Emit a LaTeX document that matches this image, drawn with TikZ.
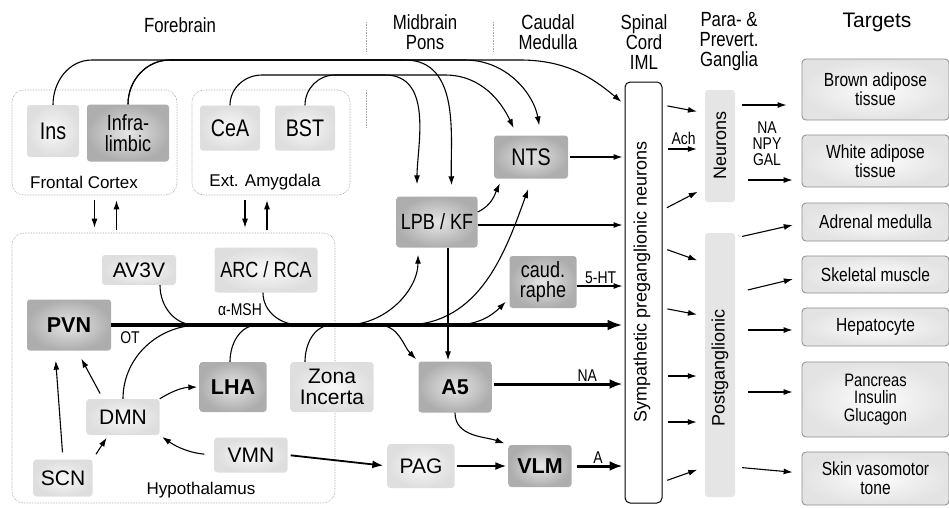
\documentclass[tikz,border=0pt]{standalone}
\usepackage{fontspec}
\setmainfont{Liberation Sans}
\newfontfamily\narrowfont[FakeStretch=0.82]{Liberation Sans}
\usetikzlibrary{arrows.meta}

\newcommand{\hdfont}{\narrowfont\fontsize{20.5}{20}\selectfont}
\newcommand{\bxfont}{\narrowfont\fontsize{22}{20}\selectfont}
\newcommand{\bgfont}{\narrowfont\fontsize{24}{24}\selectfont}
\newcommand{\rgfont}{\fontsize{21}{21}\selectfont}
\newcommand{\bdfont}{\bfseries\fontsize{21.5}{21.5}\selectfont}
\newcommand{\tgfont}{\narrowfont\fontsize{19}{19}\selectfont}
\newcommand{\smfont}{\narrowfont\fontsize{17}{16}\selectfont}
\newcommand{\grfont}{\fontsize{17}{17}\selectfont}
\newcommand{\rotfont}{\fontsize{18}{18}\selectfont}

\begin{document}
\begin{tikzpicture}[x=1pt,y=1pt,
  >={Latex[length=9pt,width=6pt]},
  dkbox/.style={rounded corners=3pt,inner sep=0pt,align=center,inner color=gray!20,outer color=gray!64,font=\bxfont},
  ltbox/.style={rounded corners=3pt,inner sep=0pt,align=center,inner color=gray!5,outer color=gray!26,font=\rgfont},
  tgbox/.style={rounded corners=4pt,inner sep=0pt,align=center,draw=gray!90,line width=0.8pt,inner color=gray!2,outer color=gray!22,font=\tgfont,minimum width=147pt},
  gbox/.style={fill=gray!20,rounded corners=3pt,minimum width=30pt,inner sep=0pt},
  group/.style={draw=gray!80,densely dotted,line width=0.6pt,rounded corners=12pt,inner sep=0pt},
  head/.style={font=\hdfont,align=center},
  lab/.style={font=\smfont,inner sep=1.5pt,align=center},
  sep/.style={draw=gray!70,densely dotted,line width=0.6pt},
  ln/.style={line width=1.1pt},
  thk/.style={line width=3.4pt,-{Latex[length=15pt,width=11pt]}},
  mid/.style={line width=3pt,-{Latex[length=13pt,width=10pt]}},
  med/.style={line width=1.8pt,-{Latex[length=11pt,width=8pt]}},
  sm/.style={ln,->,shorten <=5pt,shorten >=8pt}]
\useasboundingbox (0,0) rectangle (949,-507);
%
% column heads
\node [head] at (180,-25) (hfore) {Forebrain};
\node [head] at (425,-32) (hmid) {Midbrain\\Pons};
\node [head] at (548,-32) (hcaud) {Caudal\\Medulla};
\node [head] at (644,-42) (hspin) {Spinal\\Cord\\IML};
\node [head] at (729,-42) (hgang) {Para- \&\\Prevert.\\Ganglia};
\node [font=\rgfont] at (877,-22) (htarg) {Targets};
\draw[sep] (366,-22) -- (366,-52);
\draw[sep] (366,-90) -- (366,-127);
\draw[sep] (493,-22) -- (493,-52);
%
% regions
\node [group,minimum width=165pt,minimum height=105pt] at (94.5,-142.5) (fcx) {};
\node [group,minimum width=158pt,minimum height=105pt] at (271,-142.5) (amy) {};
\node [group,minimum width=323pt,minimum height=270pt] at (173.5,-368) (hyp) {};
\node [font=\grfont] at (84,-182) (fcxlab) {Frontal Cortex};
\node [font=\grfont] at (265,-182) (amylab) {Ext. Amygdala};
\node [font=\grfont] at (201,-490) (hyplab) {Hypothalamus};
%
% forebrain
\node [ltbox,font=\bgfont,minimum width=52pt,minimum height=52pt] at (53,-131) (ins) {Ins};
\node [dkbox,font=\narrowfont\fontsize{22}{21.5}\selectfont,minimum width=82pt,minimum height=57pt] at (128,-133) (infra) {Infra-\\limbic};
\node [ltbox,font=\bgfont,minimum width=60pt,minimum height=45pt] at (230,-128) (cea) {CeA};
\node [ltbox,font=\bgfont,minimum width=60pt,minimum height=45pt] at (305,-128) (bst) {BST};
% hypothalamus
\node [ltbox,minimum width=74pt,minimum height=30pt] at (139,-270) (av3v) {AV3V};
\node [ltbox,font=\bxfont,minimum width=103pt,minimum height=45pt] at (266,-270) (arc) {ARC / RCA};
\node [dkbox,font=\bdfont,minimum width=84pt,minimum height=51pt] at (69,-325) (pvn) {PVN};
\node [dkbox,font=\bdfont,minimum width=67pt,minimum height=50pt] at (233,-387) (lha) {LHA};
\node [ltbox,minimum width=83pt,minimum height=50pt] at (332,-387) (zona) {Zona\\Incerta};
\node [ltbox,minimum width=73pt,minimum height=36pt] at (123,-417) (dmn) {DMN};
\node [ltbox,minimum width=73pt,minimum height=35pt] at (251,-455) (vmn) {VMN};
\node [ltbox,minimum width=59pt,minimum height=37pt] at (63,-478) (scn) {SCN};
% brainstem
\node [ltbox,minimum width=67pt,minimum height=44pt] at (421,-466) (pag) {PAG};
\node [dkbox,font=\bdfont,minimum width=73pt,minimum height=51pt] at (455,-387) (a5) {A5};
\node [dkbox,font=\bdfont,minimum width=63pt,minimum height=42pt] at (540,-466) (vlm) {VLM};
\node [dkbox,minimum width=67pt,minimum height=52pt] at (543,-282) (raphe) {caud.\\raphe};
\node [dkbox,minimum width=81pt,minimum height=51pt] at (437,-222) (lpb) {LPB / KF};
\node [dkbox,font=\bgfont,minimum width=74pt,minimum height=43pt] at (531,-157) (nts) {NTS};
% spinal cord, ganglia
\node [draw,line width=1pt,rounded corners=5pt,fill=white,minimum width=37pt,minimum height=421pt] at (643.5,-292.5) (spinal) {};
\node [rotate=90,font=\rotfont] at (642,-282) (spinaltxt) {Sympathetic preganglionic neurons};
\node [gbox,minimum height=112pt] at (720,-146) (neurons) {};
\node [rotate=90,font=\rotfont] at (720,-145) (neuronstxt) {Neurons};
\node [gbox,minimum height=264pt] at (720,-365) (postg) {};
\node [rotate=90,font=\rotfont] at (720,-368) (postgtxt) {Postganglionic};
% targets
\node [tgbox,minimum height=61pt] at (875.5,-89.5) (brown) {Brown adipose\\tissue};
\node [tgbox,minimum height=52pt] at (875.5,-161) (white) {White adipose\\tissue};
\node [tgbox,minimum height=38pt] at (875.5,-222) (adrenal) {Adrenal medulla};
\node [tgbox,minimum height=37pt] at (875.5,-274.5) (skeletal) {Skeletal muscle};
\node [tgbox,minimum height=38pt] at (875.5,-327) (hepato) {Hepatocyte};
\node [tgbox,minimum height=75pt,font=\narrowfont\fontsize{18}{17.5}\selectfont] at (875.5,-399.5) (pancreas) {Pancreas\\Insulin\\Glucagon};
\node [tgbox,minimum height=53pt] at (875.5,-478.5) (skin) {Skin vasomotor\\tone};
%
% points where tracts join the OT bundle
\coordinate (jav3v) at (195,-325);
\coordinate (jdmn) at (200,-325);
\coordinate (jlha) at (258,-325);
\coordinate (jarc) at (300,-325);
\coordinate (jzona) at (332,-325);
\coordinate (slpb) at (345,-325);
\coordinate (sa5) at (378,-325);
\coordinate (snts) at (405,-325);
\coordinate (sraphe) at (455,-325);
%
% long descending tracts
\draw[ln,->,shorten >=11pt] (ins.north) to[out=90,in=180] (92,-60) -- (405,-60) to[out=0,in=92] ([xshift=15pt]lpb.north);
\draw[ln,->,shorten >=10pt] (infra.north) to[out=90,in=180] (170,-60) -- (465,-60) to[out=0,in=100] ([xshift=10pt]nts.north);
\draw[ln,->,shorten >=4pt] (infra.north) to[out=90,in=180] (170,-60) -- (520,-60) to[out=0,in=140] ([yshift=-23pt]spinal.north west);
\draw[ln,->,shorten >=12pt] (cea.north) to[out=90,in=180] (262,-75) -- (385,-75) to[out=0,in=90] ([xshift=-20pt]lpb.north);
\draw[ln,->,shorten >=8pt] (bst.north) to[out=90,in=180] (335,-75) -- (445,-75) to[out=0,in=115] ([xshift=-14pt]nts.north);
%
\path[ln,->,shorten <=5pt,shorten >=5pt] (fcx.south) edge (fcx.south |- hyp.north);
\path[ln,->,shorten <=3pt,shorten >=5pt] ([xshift=22pt]fcx.south |- hyp.north) edge ([xshift=22pt]fcx.south);
\path[ln,->,shorten <=5pt,shorten >=5pt] ([xshift=-26pt]amy.south) edge ([xshift=-26pt]amy.south |- hyp.north);
\path[ln,->,shorten <=3pt,shorten >=5pt] ([xshift=-4pt]amy.south |- hyp.north) edge ([xshift=-4pt]amy.south);
%
% hypothalamus
\path[ln,->,shorten <=7pt,shorten >=10pt] (scn.north) edge ([xshift=-14pt]pvn.south);
\path[ln,->,shorten <=6pt,shorten >=3pt] (scn.north east) edge ([xshift=22pt]dmn.south west);
\path[ln,->,shorten <=6pt,shorten >=9pt] ([xshift=-20pt]dmn.north) edge ([xshift=8pt]pvn.south);
\path[ln,->,shorten >=2pt] (dmn.north east) edge[bend left=15] (lha.west);
\path[ln,->,shorten <=10pt,shorten >=3pt] (vmn.west) edge[bend left=15] (dmn.south east);
%
% OT bundle
\path[thk,shorten >=2pt] (pvn.east) edge (pvn.east -| spinal.west);
\draw[ln] ([xshift=21pt]av3v.south) to[out=-90,in=180] (jav3v);
\draw[ln] (dmn.north) to[out=90,in=180] (jdmn);
\draw[ln] ([xshift=-3pt]arc.south) to[out=-90,in=180] (jarc);
\draw[ln] ([xshift=-3pt]lha.north) to[out=90,in=180] (jlha);
\draw[ln] ([xshift=-27pt]zona.north) to[out=90,in=180] (jzona);
\draw[ln,->,shorten >=7pt] (slpb) to[out=0,in=-90] ([xshift=-19pt]lpb.south);
\draw[ln,->,shorten >=11pt] (snts) to[out=0,in=-110] ([xshift=1pt]nts.south);
\draw[ln,->,shorten >=5pt] (sraphe) to[out=0,in=-135] ([yshift=10pt]raphe.south west);
\draw[ln,->,shorten >=3pt] (sa5) to[out=0,in=135] (a5.north west);
\node [lab] at (130,-338) (otlab) {OT};
\node [lab] at (240,-310) (mshlab) {α-MSH};
%
% brainstem
\path[ln,->,shorten >=1pt] ([xshift=11pt]lpb.south) edge ([xshift=-7pt]a5.north);
\path[ln,->,shorten >=5pt] ([yshift=10pt]lpb.east) edge[out=25,in=-115] ([xshift=-29pt]nts.south);
\path[ln,->,shorten >=2pt] ([yshift=-3pt]lpb.east) edge ([yshift=-3pt]lpb.east -| spinal.west);
\path[ln,->,shorten <=2pt,shorten >=2pt] (nts.east) edge (nts.east -| spinal.west);
\path[ln,->,shorten >=2pt] ([yshift=-4pt]raphe.east) edge node [lab,above] {5-HT} ([yshift=-4pt]raphe.east -| spinal.west);
\path[mid,shorten <=2pt,shorten >=2pt] ([yshift=3pt]a5.east) edge node [lab,above,pos=0.72] {NA} ([yshift=3pt]a5.east -| spinal.west);
\path[mid,shorten <=5pt,shorten >=2pt] (vlm.east) edge node [lab,above] {A} (vlm.east -| spinal.west);
\path[ln,->,shorten >=4pt] (a5.south) edge[out=-90,in=160] (vlm.north west);
\path[med,shorten <=2pt,shorten >=2pt] (pag.east) edge (vlm.west);
\path[med,shorten <=3pt,shorten >=4pt] (vmn.east) edge (pag.west);
%
% preganglionic to ganglia
\path[sm] (spinal.east |- 0,-105) edge (neurons.west |- 0,-113);
\path[sm] (spinal.east |- 0,-149) edge node [lab,above,yshift=2pt] {Ach} (neurons.west |- 0,-149);
\path[sm] (spinal.east |- 0,-210) edge (neurons.west |- 0,-188);
\path[sm] (spinal.east |- 0,-248) edge (postg.west |- 0,-263);
\path[sm] (spinal.east |- 0,-308) edge (postg.west |- 0,-316);
\path[sm] (spinal.east |- 0,-376) edge (postg.west |- 0,-376);
\path[sm] (spinal.east |- 0,-422) edge (postg.west |- 0,-422);
\path[sm] (spinal.east |- 0,-482) edge (postg.west |- 0,-467);
%
% ganglia to targets
\path[ln,->,shorten <=7pt,shorten >=15pt] (neurons.east |- 0,-105) edge (brown.west |- 0,-105);
\path[ln,->,shorten <=13pt,shorten >=9pt] (neurons.east |- 0,-180) edge (white.west |- 0,-180);
\node [lab] at (767,-144) (nalab) {NA\\NPY\\GAL};
\path[ln,->,shorten <=7pt,shorten >=9pt] (postg.east |- 0,-238) edge (adrenal.west |- 0,-223);
\path[ln,->,shorten <=13pt,shorten >=9pt] (postg.east |- 0,-293) edge (skeletal.west |- 0,-277);
\path[ln,->,shorten <=13pt,shorten >=9pt] (postg.east |- 0,-330) edge (hepato.west |- 0,-330);
\path[ln,->,shorten <=13pt,shorten >=9pt] (postg.east |- 0,-392) edge (pancreas.west |- 0,-392);
\path[ln,->,shorten <=7pt,shorten >=9pt] (postg.east |- 0,-467) edge (skin.west |- 0,-473);
\end{tikzpicture}
\end{document}
